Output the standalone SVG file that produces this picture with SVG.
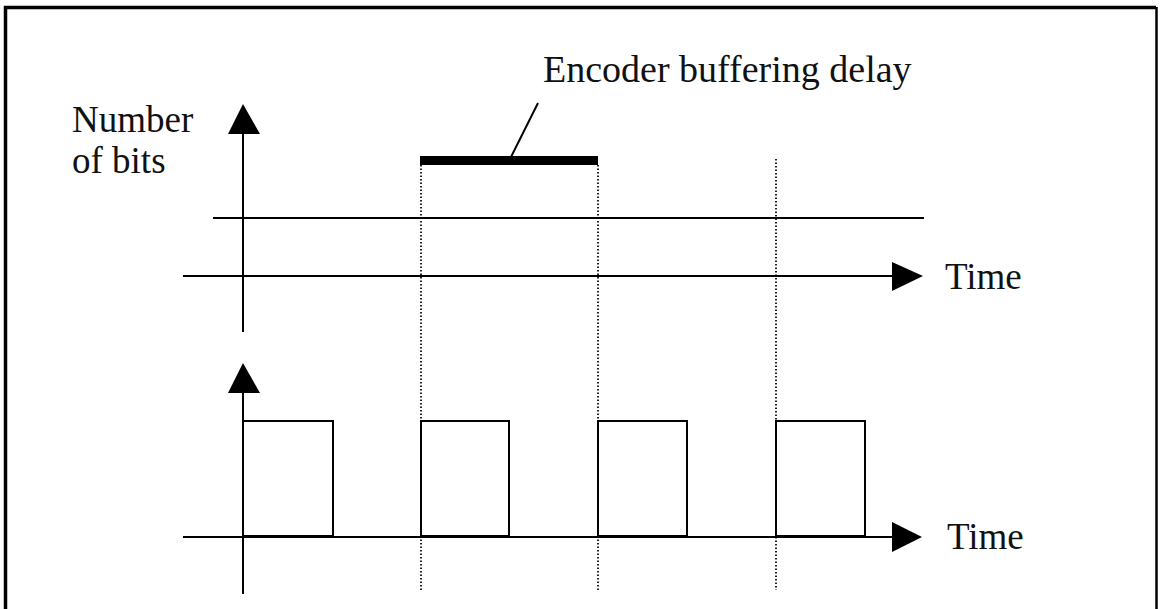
<svg xmlns="http://www.w3.org/2000/svg" width="1160" height="609" viewBox="0 0 1160 609">
  <style>
    .axis { stroke: #000; stroke-width: 2; fill: none; }
    .pulse { stroke: #000; stroke-width: 2; fill: none; }
    .dot { stroke: #222; stroke-width: 2; stroke-dasharray: 1.5 2; fill: none; }
    .lbl { font-family: "Liberation Serif", "Times New Roman", serif; font-size: 37px; fill: #111; }
    .head { fill: #000; }
  </style>

  <rect width="1160" height="609" fill="#fff"/>

  <!-- frame -->
  <g id="frame" fill="none" stroke="#000">
    <path d="M5.5,609 V7.5 H1156" stroke-width="3.5"/>
    <path d="M1156.5,7 V609" stroke-width="2.5"/>
  </g>

  <!-- dotted time markers -->
  <g id="markers">
    <line class="dot" x1="421" y1="165" x2="421" y2="590"/>
    <line class="dot" x1="598" y1="165" x2="598" y2="590"/>
    <line class="dot" x1="776" y1="159" x2="776" y2="590"/>
  </g>

  <!-- upper plot: buffer occupancy -->
  <g id="upper-axes">
    <line class="axis" x1="243" y1="130" x2="243" y2="332"/>
    <polygon class="head" points="243,104 228,134 260,134"/>
    <line class="axis" x1="213" y1="218" x2="924" y2="218"/>
    <line class="axis" x1="183" y1="276" x2="895" y2="276"/>
    <polygon class="head" points="923,276 892,262 892,291"/>
    <text class="lbl" x="945" y="289">Time</text>
    <text class="lbl" x="72" y="132">Number</text>
    <text class="lbl" x="72" y="173">of bits</text>
  </g>

  <!-- delay bar with callout -->
  <g id="delay">
    <rect x="420" y="156" width="178" height="9" fill="#000"/>
    <line x1="538" y1="103" x2="511" y2="157" stroke="#000" stroke-width="2"/>
    <text class="lbl" x="543" y="82" style="font-size:38px">Encoder buffering delay</text>
  </g>

  <!-- lower plot: pulses -->
  <g id="lower-axes">
    <line class="axis" x1="243" y1="390" x2="243" y2="594"/>
    <polygon class="head" points="243,363 228,393 260,393"/>
    <line class="axis" x1="183" y1="537" x2="895" y2="537"/>
    <polygon class="head" points="922,537 892,522 892,552"/>
    <text class="lbl" x="947" y="549">Time</text>
  </g>

  <g id="pulses">
    <rect class="pulse" x="243" y="421" width="90" height="115"/>
    <rect class="pulse" x="421" y="421" width="88" height="115"/>
    <rect class="pulse" x="598" y="421" width="89" height="115"/>
    <rect class="pulse" x="776" y="421" width="89" height="115"/>
  </g>
</svg>
